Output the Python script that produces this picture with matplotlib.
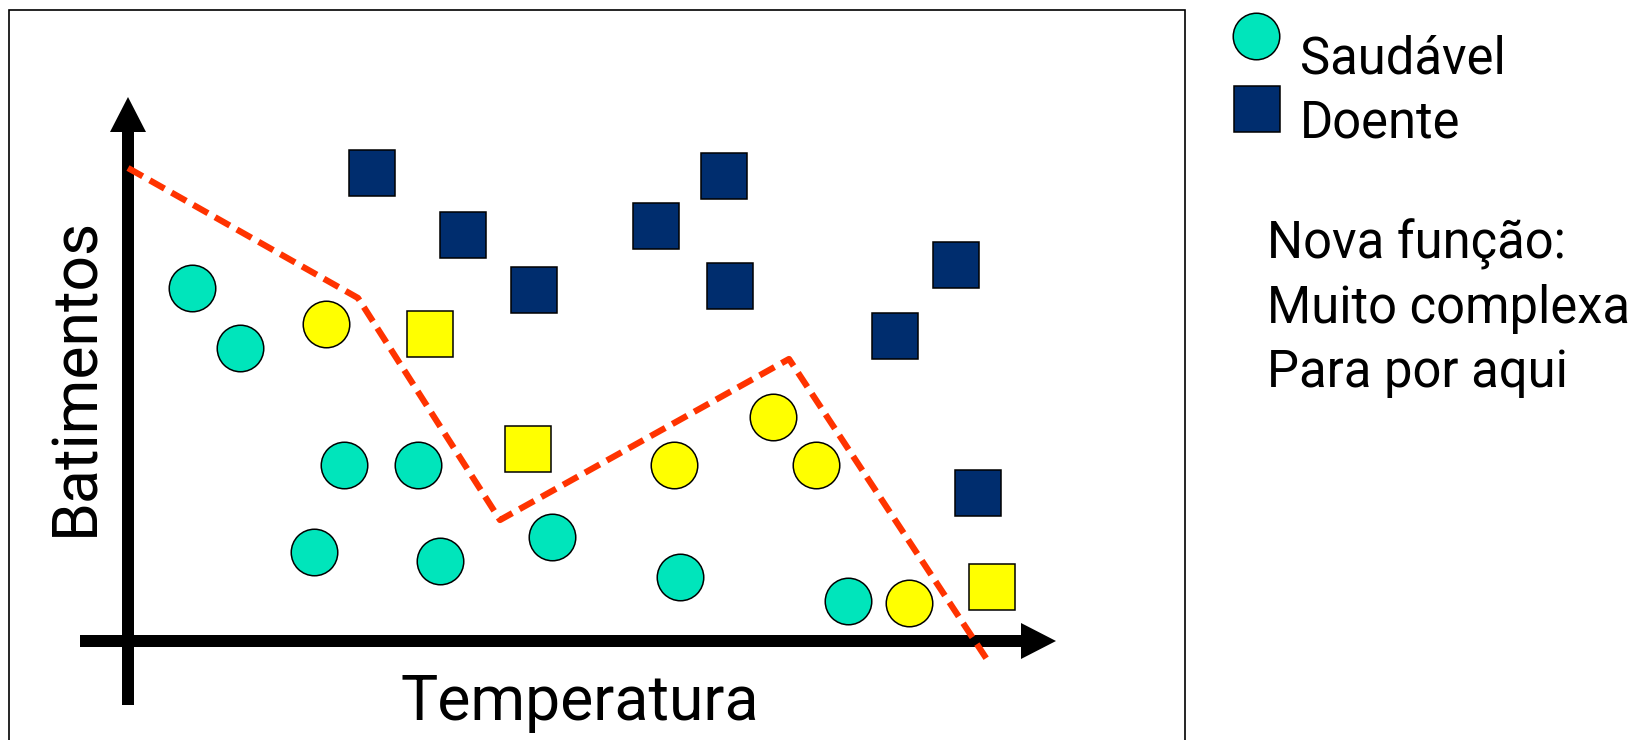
import matplotlib
matplotlib.use("Agg")
import matplotlib.pyplot as plt
from matplotlib.patches import Rectangle

# ── data (temperatura / batimentos, arbitrary units) ─────────────────────────
saudavel_temp = [64, 112, 216, 290, 186, 312, 424, 552, 720]
saudavel_bat  = [353, 293, 176, 176, 89, 80, 104, 64, 40]

saudavel_erro_temp = [198, 546, 645, 688, 781]
saudavel_erro_bat  = [317, 176, 224, 176, 38]

doente_temp = [244, 335, 406, 528, 596, 602, 767, 828, 850]
doente_bat  = [468, 406, 351, 415, 465, 355, 305, 376, 148]

doente_erro_temp = [302, 400, 864]
doente_erro_bat  = [307, 192, 54]

fronteira_temp = [0, 230, 372, 661, 860]
fronteira_bat  = [473, 343, 121, 282, -20]

legend_labels = ["Saudável", "Doente"]
nota_linhas = ["Nova função:", "Muito complexa", "Para por aqui"]

# ── style ────────────────────────────────────────────────────────────────────
TEAL   = "#00E5BB"
NAVY   = "#002D6E"
YELLOW = "#FFFF00"
RED    = "#FF3300"
FONT   = ["Roboto", "DejaVu Sans"]

W, H = 1651, 740
X0, Y0 = 128, 641          # pixel position of the axis origin


def px(x, y):
    """figure pixel (top-left origin) -> data coords"""
    return x - X0, Y0 - y


fig = plt.figure(figsize=(W / 100, H / 100), dpi=100)
ax = fig.add_axes([0, 0, 1, 1])
ax.set_xlim(-X0, W - X0)
ax.set_ylim(Y0 - H, Y0)
ax.axis("off")

# outer frame
fx0, fy0 = px(9, 10)
fx1, _ = px(1185, 0)
ax.add_patch(Rectangle((fx0, -200), fx1 - fx0, fy0 + 200, fill=False,
                       ec="black", lw=1.2))

# axis arrows
ax.arrow(0, Y0 - 705, 0, 705 - 97, width=12, head_width=36, head_length=35,
         length_includes_head=True, fc="black", ec="none")
ax.arrow(80 - X0, 0, 1056 - 80, 0, width=12, head_width=36, head_length=35,
         length_includes_head=True, fc="black", ec="none")

# decision boundary
ax.plot(fronteira_temp, fronteira_bat, color=RED, lw=4.5,
        dashes=(2.7, 1.3), zorder=2)

mk = dict(ls="none", mec="black", mew=1.1, zorder=3)
ax.plot(saudavel_temp, saudavel_bat, marker="o", ms=33.5, mfc=TEAL, **mk)
ax.plot(saudavel_erro_temp, saudavel_erro_bat, marker="o", ms=33.5, mfc=YELLOW, **mk)
ax.plot(doente_temp, doente_bat, marker="s", ms=32.5, mfc=NAVY, **mk)
ax.plot(doente_erro_temp, doente_erro_bat, marker="s", ms=32.5, mfc=YELLOW, **mk)

# axis labels
tx, ty = px(580, 720)
ax.text(tx, ty, "Temperatura", ha="center", va="baseline", fontsize=45,
        family=FONT)
bx, by = px(93, 376)
ax.text(bx, by, "Batimentos", ha="center", va="baseline", rotation=90,
        rotation_mode="anchor", fontsize=45, family=FONT)

# legend
lx, ly = px(1256, 36)
ax.plot([lx], [ly], marker="o", ms=33.5, mfc=TEAL, **mk)
lx, ly = px(1257, 109)
ax.plot([lx], [ly], marker="s", ms=32.5, mfc=NAVY, **mk)
for label, base in zip(legend_labels, [74, 138]):
    x, y = px(1300, base)
    ax.text(x, y, label, ha="left", va="baseline", fontsize=36.5, family=FONT)

for linha, base in zip(nota_linhas, [258, 323, 387]):
    x, y = px(1267, base)
    ax.text(x, y, linha, ha="left", va="baseline", fontsize=36.5, family=FONT)

fig.savefig("out.png", dpi=100, facecolor="white")
